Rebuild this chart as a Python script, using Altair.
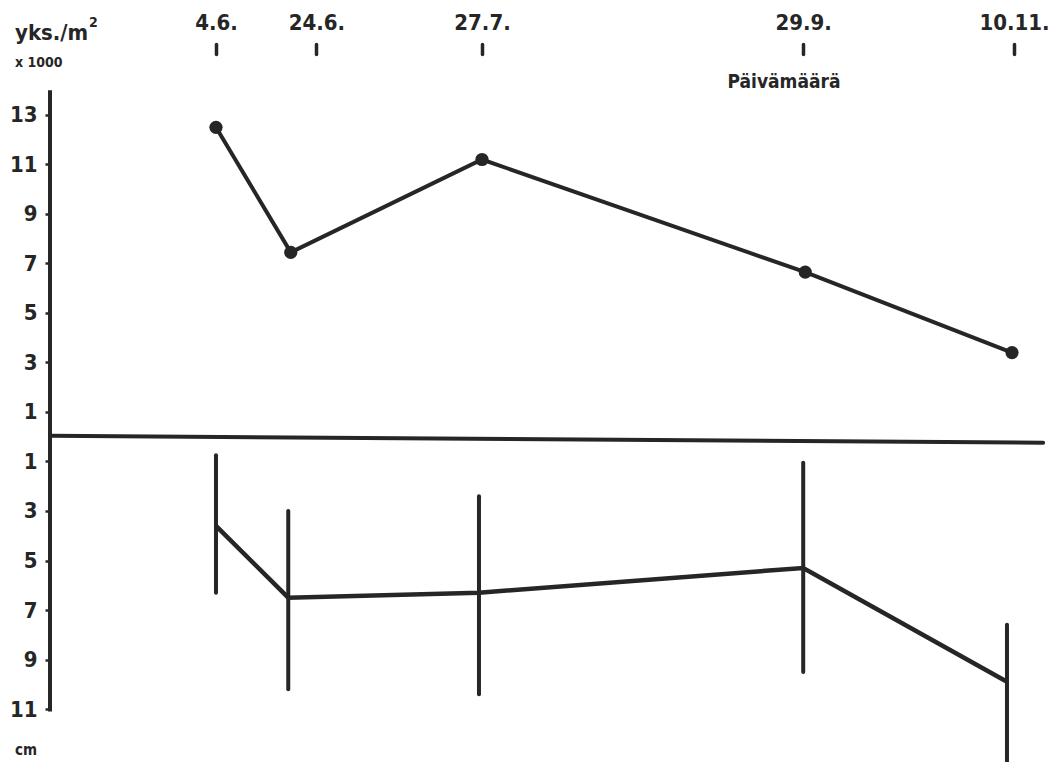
import altair as alt
import pandas as pd

# ---- data ----
date_labels = ["4.6.", "24.6.", "27.7.", "29.9.", "10.11."]
date_days = [155, 175, 208, 272, 314]            # day of year of the sampling dates

density_days = [155, 169.9, 208, 272.4, 313.6]   # plotted x of density points
density = [12.5, 7.45, 11.2, 6.65, 3.4]          # yks./m2 x 1000

depth_days = [155, 169.4, 207.4, 272, 312.6]     # plotted x of depth bars
depth_mean = [3.6, 6.5, 6.3, 5.3, 9.9]           # cm
depth_min = [0.75, 3.0, 2.4, 1.05, 7.6]          # cm
depth_max = [6.3, 10.2, 10.4, 9.5, 13.6]         # cm

y_ticks_up = [1, 3, 5, 7, 9, 11, 13]
y_ticks_down = [1, 3, 5, 7, 9, 11]

INK = "#262626"
FONT = "DejaVu Sans Condensed"

top_df = pd.DataFrame({"day": density_days, "v": density})
bot_df = pd.DataFrame({
    "day": depth_days,
    "v": [-m for m in depth_mean],
    "lo": [-m for m in depth_min],
    "hi": [-m for m in depth_max],
})

xs = alt.Scale(domain=[121.93, 321.17], nice=False, zero=False)
ys = alt.Scale(domain=[-13.14, 17.32], nice=False, zero=False)

label_map = "{" + ",".join(f"'{d}':'{l}'" for d, l in zip(date_days, date_labels)) + "}"
y_vals = [-v for v in y_ticks_down] + y_ticks_up

x_axis = alt.Axis(
    orient="top", values=date_days, labelExpr=f"{label_map}[datum.value]",
    domain=False, grid=False, tickSize=10, tickWidth=3.5, tickColor=INK, tickCap="round",
    offset=-46, labelPadding=10, labelFont=FONT, labelFontSize=22, labelFontWeight="bold",
    labelColor=INK, title=None, labelFlush=False,
)
y_axis = alt.Axis(
    values=y_vals, labelExpr="abs(datum.value)", domain=False, grid=False,
    tickSize=5, tickWidth=2.5, tickColor=INK, labelPadding=8, labelFont=FONT,
    labelFontSize=22, labelFontWeight="bold", labelColor=INK, title=None,
)

X = lambda f: alt.X(f"{f}:Q", scale=xs)
Y = lambda f: alt.Y(f"{f}:Q", scale=ys)

# density line + points (this layer carries the axes)
top_line = alt.Chart(top_df).mark_line(color=INK, strokeWidth=4).encode(
    x=alt.X("day:Q", scale=xs, axis=x_axis), y=alt.Y("v:Q", scale=ys, axis=y_axis))
top_pts = alt.Chart(top_df).mark_circle(color=INK, opacity=1, size=175).encode(x=X("day"), y=Y("v"))

# depth range bars + mean line
bars = alt.Chart(bot_df).mark_rule(color=INK, strokeWidth=4, strokeCap="round").encode(
    x=X("day"), y=Y("lo"), y2="hi:Q")
bot_line = alt.Chart(bot_df).mark_line(color=INK, strokeWidth=4.5).encode(x=X("day"), y=Y("v"))

# axis lines (zero line and vertical axis)
zero_df = pd.DataFrame({"day": [121.93, 319.8], "v": [0.04, -0.24]})
zero_line = alt.Chart(zero_df).mark_line(color=INK, strokeWidth=4, strokeCap="round").encode(
    x=X("day"), y=Y("v"))
vaxis = alt.Chart(pd.DataFrame({"day": [121.93], "a": [14.0], "b": [-11.1]})).mark_rule(
    color=INK, strokeWidth=4).encode(x=X("day"), y=Y("a"), y2="b:Q")

# annotation texts
def txt(s, x, y, size, align="left"):
    return alt.Chart(pd.DataFrame({"t": [s]})).mark_text(
        font=FONT, fontWeight="bold", fontSize=size, color=INK, align=align, baseline="alphabetic"
    ).encode(text="t:N", x=alt.value(x), y=alt.value(y))

ann = [
    txt("yks./m", -35, 32, 22),
    txt("2", 39, 19, 14),
    txt("x 1000", -35, 59, 14),
    txt("Päivämäärä", 734, 80, 19, "center"),
    txt("cm", -35, 747, 15),
]

chart = alt.layer(top_line, zero_line, vaxis, bars, bot_line, top_pts, *ann).properties(
    width=1000, height=754,
    background="white",
    autosize=alt.AutoSizeParams(type="none"),
    padding={"left": 42, "top": 0, "right": 0, "bottom": 0},
).configure_view(strokeWidth=0).configure_axis(domain=False, grid=False)

chart.save("out.html", embed_options={"renderer": "svg", "actions": False})
